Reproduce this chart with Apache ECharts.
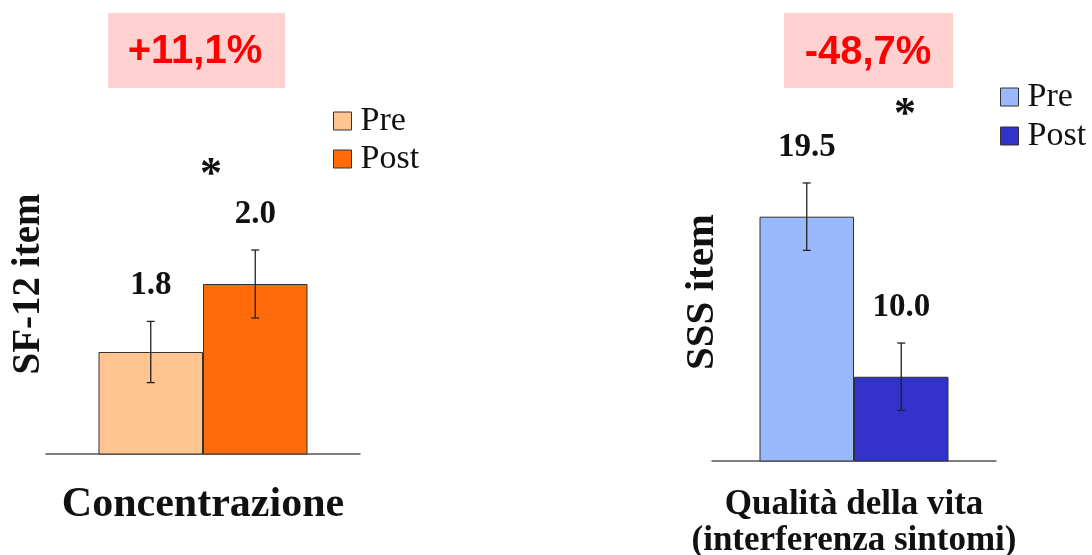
<!DOCTYPE html>
<html>
<head>
<meta charset="utf-8">
<script src="https://cdn.jsdelivr.net/npm/echarts@6/dist/echarts.min.js"></script>
<style>
  html, body { margin: 0; padding: 0; background: #ffffff; }
  #chart { width: 1092px; height: 555px; }
</style>
</head>
<body>
<div id="chart"></div>
<script>
// Pre/post means with their error bar half-lengths, one pair per outcome
const seriesNames = ['Pre', 'Post'];
const sf12Category = ['Concentrazione'];
const sf12Means = [1.8, 2.0];
const sf12Errors = [0.09, 0.1];
const sssCategory = ['Qualità della vita\n(interferenza sintomi)'];
const sssMeans = [19.5, 10.0];
const sssErrors = [2.0, 2.0];
const yTitles = ['SF-12 item', 'SSS item'];
const significance = ['*', '*'];

const SERIF = '"Liberation Serif", "Times New Roman", serif';
const SANS = '"Liberation Sans", Arial, sans-serif';
const leftColors = ['#FFC48F', '#FF6A0A'];
const rightColors = ['#9AB9FD', '#3333CC'];
const leftBarWidth = 104.5;
const rightBarWidth = 94.5;

// Percentage change from Pre to Post, written with a decimal comma
function pctChange(means) {
  const p = (means[1] - means[0]) / means[0] * 100;
  return (p > 0 ? '+' : '') + p.toFixed(1).replace('.', ',') + '%';
}

// Error bar with caps, plus the mean written above it
function errorBarRenderer(barWidth) {
  return function (params, api) {
    const mean = api.value(1);
    const err = api.value(2);
    const side = api.value(3);
    const centre = api.coord([0, mean]);
    const x = centre[0] + (side === 0 ? -barWidth / 2 : barWidth / 2);
    const top = api.coord([0, mean + err])[1];
    const bottom = api.coord([0, mean - err])[1];
    const cap = 4;
    const stroke = { stroke: '#222', lineWidth: 1.3 };
    return {
      type: 'group',
      children: [
        { type: 'line', shape: { x1: x, y1: top, x2: x, y2: bottom }, style: stroke },
        { type: 'line', shape: { x1: x - cap, y1: top, x2: x + cap, y2: top }, style: stroke },
        { type: 'line', shape: { x1: x - cap, y1: bottom, x2: x + cap, y2: bottom }, style: stroke },
        {
          type: 'text',
          style: {
            text: mean.toFixed(1), x: x, y: top - 36,
            align: 'center', verticalAlign: 'middle',
            font: 'bold 33px ' + SERIF, fill: '#111'
          }
        }
      ]
    };
  };
}

function errorData(means, errors) {
  return means.map((m, i) => [0, m, errors[i], i]);
}

const axisLineStyle = { lineStyle: { color: '#555', width: 1.5 } };

const chart = echarts.init(document.getElementById('chart'), null, { renderer: 'canvas' });

chart.setOption({
  backgroundColor: '#ffffff',
  animation: false,
  grid: [
    { left: 46, width: 314, top: 114, height: 340, outerBoundsMode: 'none' },
    { left: 712, width: 284, top: 124, height: 337, outerBoundsMode: 'none' }
  ],
  xAxis: [
    {
      type: 'category', gridIndex: 0, data: sf12Category,
      axisLine: axisLineStyle, axisTick: { show: false },
      axisLabel: { margin: 30, color: '#111', fontFamily: SERIF, fontWeight: 'bold', fontSize: 42 }
    },
    {
      type: 'category', gridIndex: 1, data: sssCategory,
      axisLine: axisLineStyle, axisTick: { show: false },
      axisLabel: { margin: 26, color: '#111', fontFamily: SERIF, fontWeight: 'bold', fontSize: 35, lineHeight: 36 }
    }
  ],
  yAxis: [
    { type: 'value', gridIndex: 0, min: 1.5, max: 2.5, show: false },
    { type: 'value', gridIndex: 1, min: 5, max: 25, show: false }
  ],
  legend: [
    {
      orient: 'vertical', left: 333, top: 104, padding: 0,
      itemWidth: 18, itemHeight: 18, itemGap: 4, icon: 'rect', selectedMode: false,
      textStyle: { fontFamily: SERIF, fontSize: 34, color: '#111', padding: [0, 0, 0, 4] },
      data: seriesNames.map((n, i) => ({ name: n, itemStyle: { color: leftColors[i], borderColor: '#333', borderWidth: 1 } }))
    },
    {
      orient: 'vertical', left: 1000, top: 80, padding: 0,
      itemWidth: 18, itemHeight: 18, itemGap: 5, icon: 'rect', selectedMode: false,
      textStyle: { fontFamily: SERIF, fontSize: 34, color: '#111', padding: [0, 0, 0, 4] },
      data: seriesNames.map((n, i) => ({ name: n, itemStyle: { color: rightColors[i], borderColor: '#333', borderWidth: 1 } }))
    }
  ],
  series: [
    {
      name: seriesNames[0], type: 'bar', xAxisIndex: 0, yAxisIndex: 0,
      data: [sf12Means[0]], barWidth: leftBarWidth, barGap: '0%',
      itemStyle: { color: leftColors[0], borderColor: '#333', borderWidth: 1 }
    },
    {
      name: seriesNames[1], type: 'bar', xAxisIndex: 0, yAxisIndex: 0,
      data: [sf12Means[1]], barWidth: leftBarWidth, barGap: '0%',
      itemStyle: { color: leftColors[1], borderColor: '#333', borderWidth: 1 }
    },
    {
      name: seriesNames[0], type: 'bar', xAxisIndex: 1, yAxisIndex: 1,
      data: [sssMeans[0]], barWidth: rightBarWidth, barGap: '0%',
      itemStyle: { color: rightColors[0], borderColor: '#333', borderWidth: 1 }
    },
    {
      name: seriesNames[1], type: 'bar', xAxisIndex: 1, yAxisIndex: 1,
      data: [sssMeans[1]], barWidth: rightBarWidth, barGap: '0%',
      itemStyle: { color: rightColors[1], borderColor: '#333', borderWidth: 1 }
    },
    {
      name: 'SF-12 dev', type: 'custom', xAxisIndex: 0, yAxisIndex: 0, z: 5,
      renderItem: errorBarRenderer(leftBarWidth),
      encode: { x: 0, y: 1 },
      data: errorData(sf12Means, sf12Errors)
    },
    {
      name: 'SSS dev', type: 'custom', xAxisIndex: 1, yAxisIndex: 1, z: 5,
      renderItem: errorBarRenderer(rightBarWidth),
      encode: { x: 0, y: 1 },
      data: errorData(sssMeans, sssErrors)
    }
  ],
  graphic: [
    // change boxes
    { type: 'rect', shape: { x: 108, y: 13, width: 177, height: 75 }, style: { fill: '#FFD1D1' } },
    { type: 'text', style: { text: pctChange(sf12Means), x: 195, y: 52, align: 'center', verticalAlign: 'middle', font: 'bold 40px ' + SANS, fill: '#FF0000' } },
    { type: 'rect', shape: { x: 784, y: 13, width: 169, height: 75 }, style: { fill: '#FFD1D1' } },
    { type: 'text', style: { text: pctChange(sssMeans), x: 868, y: 53, align: 'center', verticalAlign: 'middle', font: 'bold 40px ' + SANS, fill: '#FF0000' } },
    // significance marks
    { type: 'text', style: { text: significance[0], x: 211, y: 176, align: 'center', verticalAlign: 'middle', font: 'bold 44px ' + SERIF, fill: '#111' } },
    { type: 'text', style: { text: significance[1], x: 905, y: 116, align: 'center', verticalAlign: 'middle', font: 'bold 44px ' + SERIF, fill: '#111' } },
    // y-axis titles
    { type: 'text', x: 29, y: 284, rotation: Math.PI / 2, style: { text: yTitles[0], x: 0, y: 0, align: 'center', verticalAlign: 'middle', font: 'bold 39px ' + SERIF, fill: '#111' } },
    { type: 'text', x: 702, y: 292, rotation: Math.PI / 2, style: { text: yTitles[1], x: 0, y: 0, align: 'center', verticalAlign: 'middle', font: 'bold 41px ' + SERIF, fill: '#111' } }
  ]
});
</script>
</body>
</html>
